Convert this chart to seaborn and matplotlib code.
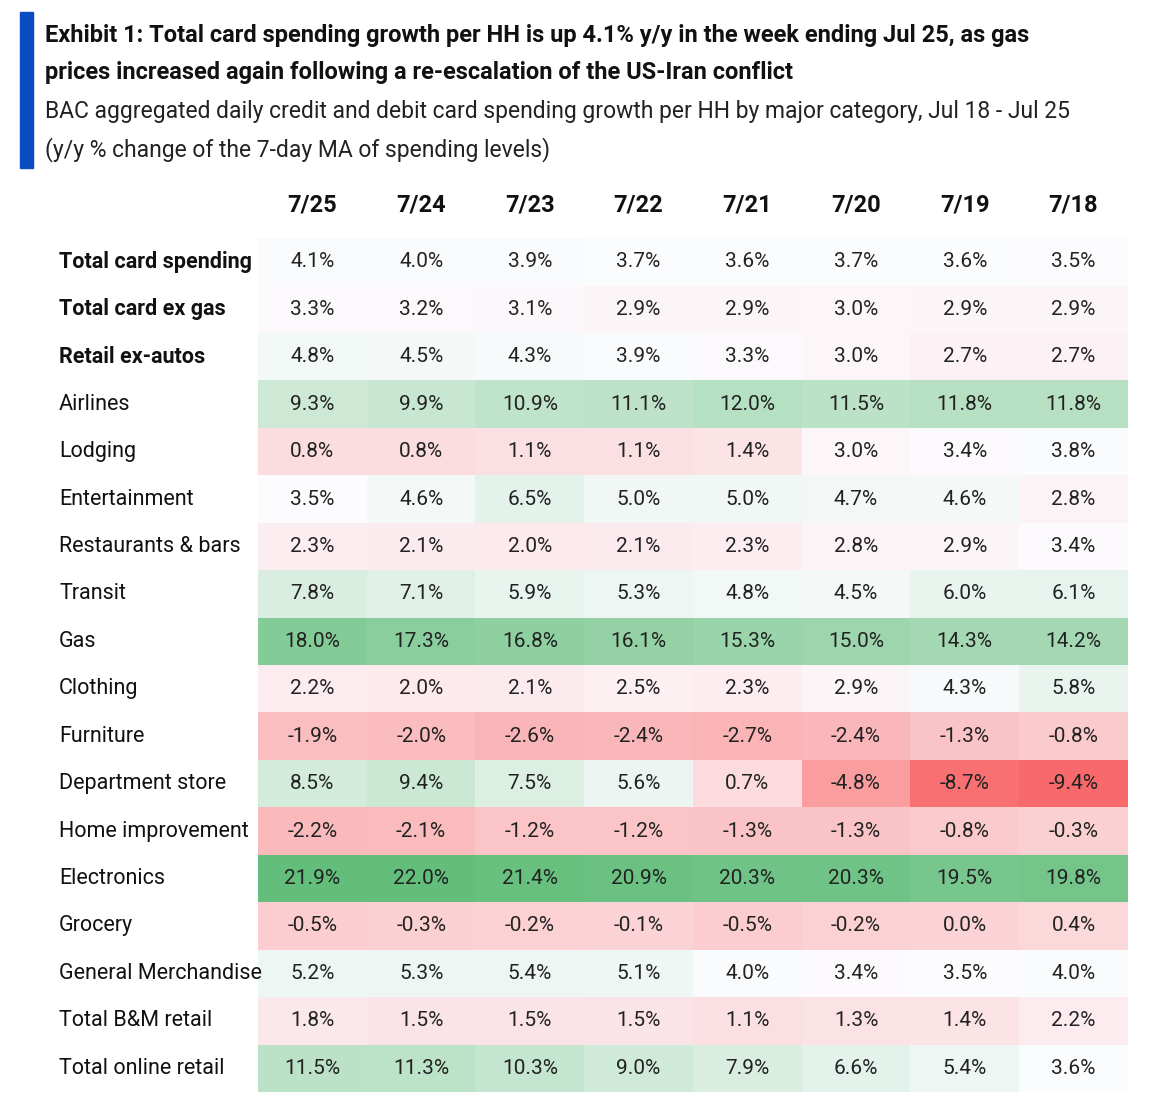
import numpy as np
import pandas as pd
import matplotlib.pyplot as plt
import seaborn as sns
from matplotlib.colors import LinearSegmentedColormap, TwoSlopeNorm
from matplotlib.patches import Rectangle

sns.set_theme(style="white")
plt.rcParams['font.family'] = ['Roboto', 'DejaVu Sans']

dates = ["7/25", "7/24", "7/23", "7/22", "7/21", "7/20", "7/19", "7/18"]
categories = ["Total card spending", "Total card ex gas", "Retail ex-autos", "Airlines",
              "Lodging", "Entertainment", "Restaurants & bars", "Transit", "Gas",
              "Clothing", "Furniture", "Department store", "Home improvement",
              "Electronics", "Grocery", "General Merchandise", "Total B&M retail",
              "Total online retail"]
bold_rows = ["Total card spending", "Total card ex gas", "Retail ex-autos"]

total_card = [4.1, 4.0, 3.9, 3.7, 3.6, 3.7, 3.6, 3.5]
total_ex_gas = [3.3, 3.2, 3.1, 2.9, 2.9, 3.0, 2.9, 2.9]
retail_ex_autos = [4.8, 4.5, 4.3, 3.9, 3.3, 3.0, 2.7, 2.7]
airlines = [9.3, 9.9, 10.9, 11.1, 12.0, 11.5, 11.8, 11.8]
lodging = [0.8, 0.8, 1.1, 1.1, 1.4, 3.0, 3.4, 3.8]
entertainment = [3.5, 4.6, 6.5, 5.0, 5.0, 4.7, 4.6, 2.8]
restaurants = [2.3, 2.1, 2.0, 2.1, 2.3, 2.8, 2.9, 3.4]
transit = [7.8, 7.1, 5.9, 5.3, 4.8, 4.5, 6.0, 6.1]
gas = [18.0, 17.3, 16.8, 16.1, 15.3, 15.0, 14.3, 14.2]
clothing = [2.2, 2.0, 2.1, 2.5, 2.3, 2.9, 4.3, 5.8]
furniture = [-1.9, -2.0, -2.6, -2.4, -2.7, -2.4, -1.3, -0.8]
dept_store = [8.5, 9.4, 7.5, 5.6, 0.7, -4.8, -8.7, -9.4]
home_impr = [-2.2, -2.1, -1.2, -1.2, -1.3, -1.3, -0.8, -0.3]
electronics = [21.9, 22.0, 21.4, 20.9, 20.3, 20.3, 19.5, 19.8]
grocery = [-0.5, -0.3, -0.2, -0.1, -0.5, -0.2, 0.0, 0.4]
gen_merch = [5.2, 5.3, 5.4, 5.1, 4.0, 3.4, 3.5, 4.0]
bm_retail = [1.8, 1.5, 1.5, 1.5, 1.1, 1.3, 1.4, 2.2]
online_retail = [11.5, 11.3, 10.3, 9.0, 7.9, 6.6, 5.4, 3.6]

values = [total_card, total_ex_gas, retail_ex_autos, airlines, lodging, entertainment,
          restaurants, transit, gas, clothing, furniture, dept_store, home_impr,
          electronics, grocery, gen_merch, bm_retail, online_retail]
df = pd.DataFrame(values, index=categories, columns=dates)
annot = df.map(lambda v: f"{v:.1f}%")

cmap = LinearSegmentedColormap.from_list("rwg", ["#F8696B", "#FCFCFF", "#63BE7B"])
norm = TwoSlopeNorm(vmin=-9.4, vcenter=3.6, vmax=22.0)

fig = plt.figure(figsize=(11.52, 11.06), dpi=100)
ax = fig.add_axes([0.224, 0.0127, 0.755, 0.772])
sns.heatmap(df, ax=ax, cmap=cmap, norm=norm, cbar=False, annot=annot, fmt="",
            linewidths=0, annot_kws={"fontsize": 15, "color": "#222222"})
ax.set_xticks([])
ax.set_yticks([])
ax.set_xlabel("")
ax.set_ylabel("")

for j, d in enumerate(dates):
    ax.text(j + 0.5, -0.45, d, ha="center", va="bottom", fontsize=17,
            fontweight="bold", color="#111111")
for i, c in enumerate(categories):
    ax.text(-1.83, i + 0.5, c, ha="left", va="center", fontsize=15.5, color="#111111",
            fontweight="bold" if c in bold_rows else "normal")

fig.patches.append(Rectangle((0.017, 0.848), 0.012, 0.141, transform=fig.transFigure,
                             color="#0A4BC4"))
fig.text(0.039, 0.968, "Exhibit 1: Total card spending growth per HH is up 4.1% y/y in the week ending Jul 25, as gas",
         fontsize=17, fontweight="bold", va="center", color="#111111")
fig.text(0.039, 0.934, "prices increased again following a re-escalation of the US-Iran conflict",
         fontsize=17, fontweight="bold", va="center", color="#111111")
fig.text(0.039, 0.899, "BAC aggregated daily credit and debit card spending growth per HH by major category, Jul 18 - Jul 25",
         fontsize=16.5, va="center", color="#222222")
fig.text(0.039, 0.865, "(y/y % change of the 7-day MA of spending levels)",
         fontsize=16.5, va="center", color="#222222")

fig.savefig("out.png", dpi=100)
